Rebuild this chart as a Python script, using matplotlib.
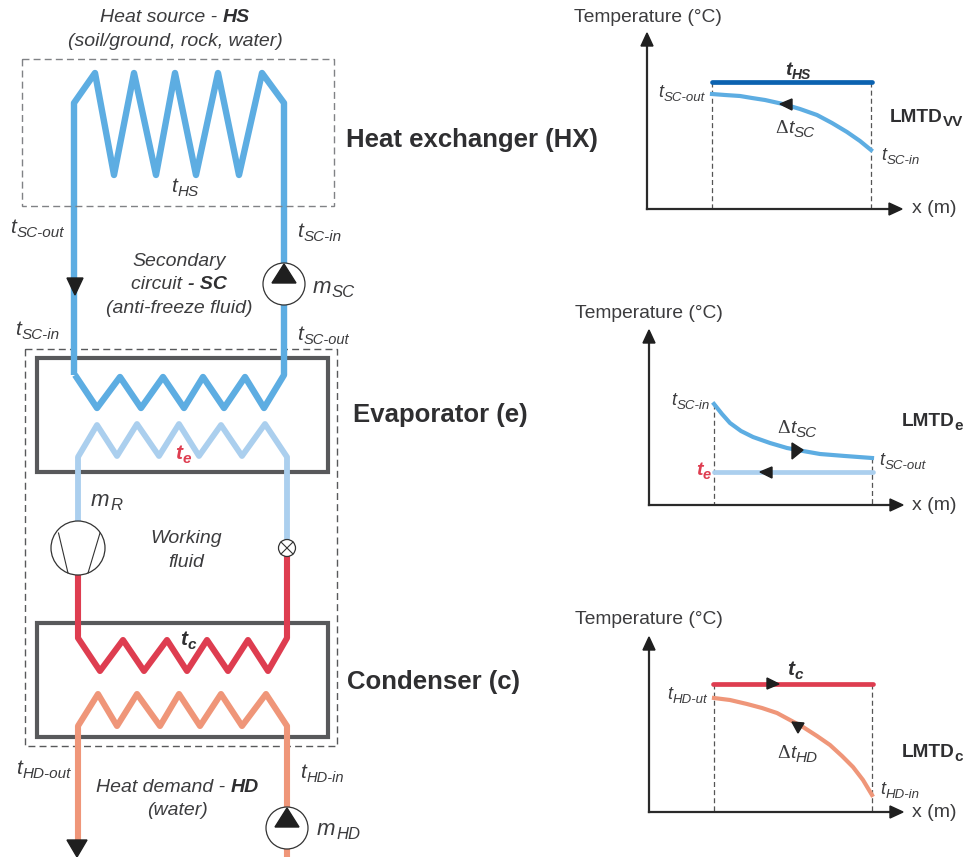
import matplotlib
matplotlib.use('Agg')
from matplotlib import pyplot as plt
from matplotlib.patches import Circle, Polygon, Rectangle

plt.rcParams['font.family'] = ['Liberation Sans', 'DejaVu Sans']

## Colours
BLUE = '#5dade2'
DARKBLUE = '#0b62b0'
LIGHTBLUE = '#abcfee'
RED = '#de3d50'
SALMON = '#ef9679'
GREY = '#58595b'
TEXT = '#3c3c3e'
BOLDTEXT = '#2f2f31'

## Pipes and coils, left diagram (x and y)
hsX = [74, 74, 95, 114, 134, 156, 175, 196, 218, 239, 262, 284, 284]
hsY = [375, 103, 73, 175, 73, 175, 73, 175, 73, 175, 73, 103, 375]
evapX = [75, 97, 120, 141, 163, 184, 203, 224, 245, 264, 284]
evapY = [375, 408, 377, 408, 377, 408, 377, 408, 377, 408, 375]
workX = [78, 78, 97, 117, 137, 159, 179, 199, 221, 242, 265, 287, 287]
workY = [522, 457, 425, 456, 424, 456, 424, 456, 425, 456, 424, 457, 540]
condX = [78, 78, 100, 123, 144, 167, 187, 207, 228, 248, 268, 287, 287]
condY = [575, 638, 671, 640, 671, 640, 671, 640, 671, 640, 671, 638, 556]
demandX = [78, 78, 98, 117, 137, 160, 179, 200, 221, 242, 266, 287, 287]
demandY = [842, 726, 694, 726, 694, 726, 694, 726, 694, 726, 694, 726, 857]

## Panel curves
hxCurveX = [712, 725, 740, 752, 765, 783, 800, 817, 832, 847, 860, 871]
hxCurveY = [94, 95, 96, 98, 100, 104, 109, 115, 123, 132, 141, 150]
evCurveX = [714, 722, 730, 741, 753, 770, 787, 803, 820, 845, 872]
evCurveY = [404, 414, 423, 431, 437, 443, 448, 451, 454, 456, 458]
cdCurveX = [714, 730, 747, 762, 777, 790, 803, 817, 830, 842, 853, 863, 872]
cdCurveY = [698, 700, 704, 708, 713, 720, 727, 736, 745, 756, 767, 780, 795]

## Flat temperature lines: y, x start, x end
tHS = [82, 712, 872]
tE = [472, 714, 873]
tC = [684, 713, 873]

## Axes: x of y axis, top tip, bottom, right tip
panels = [(647, 33, 209, 902), (649, 330, 505, 903), (649, 637, 812, 903)]
## Dashed guides: x, y top, y bottom
guides = [(712, 82, 209), (871, 82, 209), (714, 404, 505), (872, 458, 505),
          (714, 684, 812), (872, 684, 812)]
## Small flow arrows
arrows = [
    [(67, 278), (83, 278), (75, 295)],
    [(67, 840), (87, 840), (77, 857)],
    [(780, 104), (792, 99), (792, 110)],
    [(803, 450), (792, 443), (792, 459)],
    [(760, 472), (772, 467), (772, 478)],
    [(779, 684), (767, 678), (767, 689)],
    [(798, 733), (792, 722), (804, 723)],
]
## Pumps: x, y, radius
pumps = [(284, 284, 21), (287, 828, 21)]


fig = plt.figure(figsize=(9.67, 8.57), dpi=100)
ax = fig.add_axes([0, 0, 1, 1])
ax.set_xlim(0, 967)
ax.set_ylim(857, 0)
ax.axis('off')
rend = fig.canvas.get_renderer()


def pipe(x, y, color, width):
    ax.plot(x, y, color=color, lw=width, solid_joinstyle='round', solid_capstyle='butt', zorder=3)


def label(x, y, parts):
    # parts is a list of (text, style, colour, size); each piece starts where the last ended
    for txt, style, col, sz in parts:
        t = ax.text(x, y + (4 if 's' in style else 0), txt, fontsize=sz, color=col,
                    va='baseline', ha='left', zorder=6,
                    family='Liberation Serif' if 'r' in style else 'Liberation Sans',
                    style='italic' if 'i' in style else 'normal',
                    weight='bold' if 'b' in style else 'normal')
        box = t.get_window_extent(rend)
        x = x + box.width + (0.5 if 'i' in style and 's' not in style else 0)


def temp(x, y, sub, size=15, subsize=11, delta=False):
    parts = [('t', 'i', TEXT, size), (sub, 'is', TEXT, subsize)]
    if delta:
        parts.insert(0, ('Δ', 'r', TEXT, size))
    label(x, y, parts)


def centered(x, y, txt, size=14):
    ax.text(x, y, txt, fontsize=size, style='italic', color=TEXT, ha='center', va='baseline', zorder=6)


## Dashed boxes
ax.add_patch(Rectangle((22, 59), 312, 147, fill=False, ec='#808285', lw=1, ls=(0, (5, 3)), zorder=4))
ax.add_patch(Rectangle((25, 349), 312, 397, fill=False, ec='#58595b', lw=1, ls=(0, (5, 3)), zorder=2))

## Heat exchanger boxes
ax.add_patch(Rectangle((37, 358), 291, 114, fill=False, ec=GREY, lw=3, joinstyle='miter', zorder=2))
ax.add_patch(Rectangle((37, 623), 291, 114, fill=False, ec=GREY, lw=3, joinstyle='miter', zorder=2))

## Pipes
pipe(hsX + evapX[::-1], hsY + evapY[::-1], BLUE, 4.6)
pipe(workX, workY, LIGHTBLUE, 4.2)
pipe(condX, condY, RED, 4.4)
pipe(demandX, demandY, SALMON, 4.4)

## Pumps with triangles
for px, py, r in pumps:
    ax.add_patch(Circle((px, py), r, fc='white', ec='#333333', lw=0.9, zorder=4))
    ax.add_patch(Polygon([(px - 12, py - 1), (px + 12, py - 1), (px, py - 20)], color='#1f1f1f', zorder=5))

## Compressor
ax.add_patch(Circle((78, 548), 27, fc='white', ec='#333333', lw=0.9, zorder=4))
ax.plot([58.5, 68], [533, 573], color='#333333', lw=0.8, zorder=5)
ax.plot([100, 88], [533, 573], color='#333333', lw=0.8, zorder=5)

## Expansion valve
ax.add_patch(Circle((287, 548), 8.5, fc='white', ec='#333333', lw=0.9, zorder=4))
ax.plot([281, 293], [542, 554], color='#333333', lw=0.8, zorder=5)
ax.plot([281, 293], [554, 542], color='#333333', lw=0.8, zorder=5)

## Right panels
for ya, top, bottom, right in panels:
    ax.plot([ya, ya], [bottom, top + 10], color='#2a2a2a', lw=1.6, zorder=3)
    ax.plot([ya, right - 10], [bottom, bottom], color='#2a2a2a', lw=1.6, zorder=3)
    ax.add_patch(Polygon([(ya - 6, top + 13), (ya + 6, top + 13), (ya, top)], color='#1f1f1f', zorder=4))
    ax.add_patch(Polygon([(right - 13, bottom - 6), (right - 13, bottom + 6), (right, bottom)], color='#1f1f1f', zorder=4))

for gx, gtop, gbot in guides:
    ax.plot([gx, gx], [gtop, gbot], color='#555555', lw=0.9, ls=(0, (4, 2.5)), zorder=2)

ax.plot(tHS[1:], [tHS[0], tHS[0]], color=DARKBLUE, lw=3.4, solid_capstyle='round', zorder=3)
ax.plot(tE[1:], [tE[0], tE[0]], color=LIGHTBLUE, lw=3.4, solid_capstyle='round', zorder=3)
ax.plot(tC[1:], [tC[0], tC[0]], color=RED, lw=3.4, solid_capstyle='round', zorder=3)
ax.plot(hxCurveX, hxCurveY, color=BLUE, lw=3, solid_joinstyle='round', zorder=3)
ax.plot(evCurveX, evCurveY, color=BLUE, lw=3, solid_joinstyle='round', zorder=3)
ax.plot(cdCurveX, cdCurveY, color=SALMON, lw=3, solid_joinstyle='round', zorder=3)

for tri in arrows:
    ax.add_patch(Polygon(tri, color='#1f1f1f', zorder=5))

## Left diagram text
label(100, 22, [('Heat source - ', 'i', TEXT, 14), ('HS', 'ib', BOLDTEXT, 14)])
centered(175, 46, '(soil/ground, rock, water)')
temp(171, 192, 'HS')
temp(10, 233, 'SC-out')
temp(297, 237, 'SC-in')
centered(179, 266, 'Secondary')
label(131, 289, [('circuit ', 'i', TEXT, 14), ('- SC', 'ib', BOLDTEXT, 14)])
centered(179, 313, '(anti-freeze fluid)')
label(313, 293, [('m', 'i', TEXT, 16), ('SC', 'is', TEXT, 12)])
temp(15, 335, 'SC-in')
temp(297, 340, 'SC-out', subsize=10.5)
label(175, 459, [('t', 'ib', RED, 15), ('e', 'ibs', RED, 11)])
label(91, 506, [('m', 'i', TEXT, 16), ('R', 'is', TEXT, 12)])
centered(186, 543, 'Working')
centered(186, 567, 'fluid')
label(180, 645, [('t', 'ib', BOLDTEXT, 15), ('c', 'ibs', BOLDTEXT, 11)])
temp(16, 774, 'HD-out')
temp(300, 778, 'HD-in', subsize=10.5)
label(96, 792, [('Heat demand - ', 'i', TEXT, 14), ('HD', 'ib', BOLDTEXT, 14)])
centered(177, 815, '(water)')
label(317, 835, [('m', 'i', TEXT, 16), ('HD', 'is', TEXT, 12)])

## Component names
for nx, ny, name in [(346, 147, 'Heat exchanger (HX)'), (353, 422, 'Evaporator (e)'), (347, 689, 'Condenser (c)')]:
    ax.text(nx, ny, name, fontsize=18.5, weight='bold', color=BOLDTEXT, va='baseline', zorder=6)

## Panel text
for tx, ty in [(574, 22), (575, 318), (575, 624)]:
    ax.text(tx, ty, 'Temperature (°C)', fontsize=13.9, color=TEXT, va='baseline')
for tx, ty in [(912, 213), (912, 510), (912, 817)]:
    ax.text(tx, ty, 'x (m)', fontsize=14, color=TEXT, va='baseline')

label(785, 75, [('t', 'ib', BOLDTEXT, 14), ('HS', 'ibs', BOLDTEXT, 10)])
temp(658, 97, 'SC-out', size=13, subsize=9.5)
temp(775, 133, 'SC', size=14, subsize=11, delta=True)
temp(881, 160, 'SC-in', size=13, subsize=9.5)
label(890, 122, [('LMTD', 'b', BOLDTEXT, 13.7), ('VV', 'bs', BOLDTEXT, 11)])

temp(671, 405, 'SC-in', size=13, subsize=9.5)
temp(777, 433, 'SC', size=14, subsize=11, delta=True)
temp(879, 465, 'SC-out', size=13, subsize=9.5)
label(696, 475, [('t', 'ib', RED, 14), ('e', 'ibs', RED, 10.5)])
label(902, 426, [('LMTD', 'b', BOLDTEXT, 13.7), ('e', 'bs', BOLDTEXT, 11)])

temp(667, 699, 'HD-ut', size=13, subsize=9.5)
label(787, 675, [('t', 'ib', BOLDTEXT, 15), ('c', 'ibs', BOLDTEXT, 11)])
temp(777, 758, 'HD', size=14, subsize=11, delta=True)
temp(880, 794, 'HD-in', size=13, subsize=9.5)
label(902, 757, [('LMTD', 'b', BOLDTEXT, 13.7), ('c', 'bs', BOLDTEXT, 11)])

fig.savefig('out.png', dpi=100)
